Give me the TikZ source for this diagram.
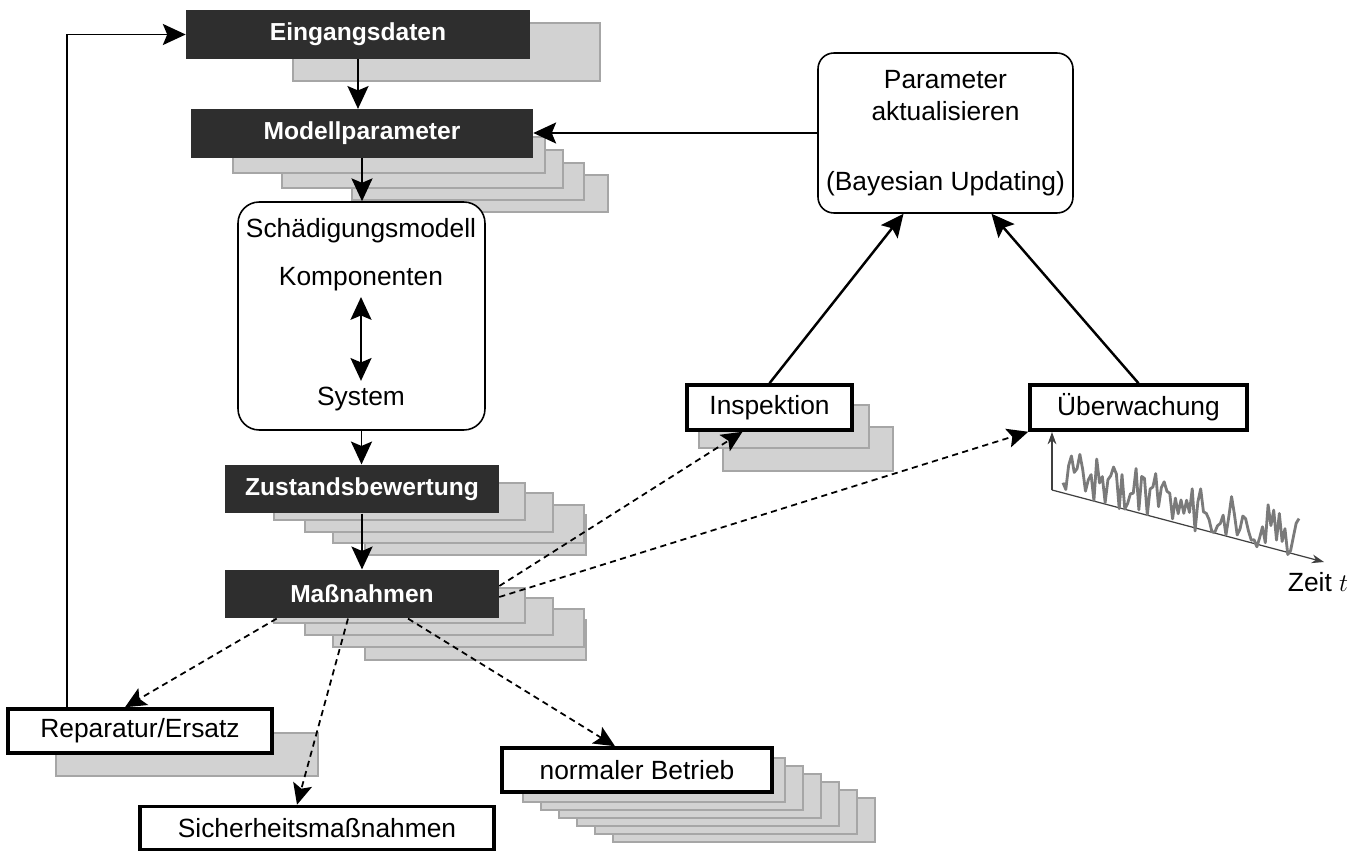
\documentclass[tikz,border=0pt]{standalone}
\usepackage{fontspec}
\setmainfont{Liberation Sans}
\usetikzlibrary{positioning,arrows.meta,calc}
\definecolor{dark}{HTML}{2E2E2E}
\definecolor{shade}{HTML}{D2D2D2}
\definecolor{shadeline}{HTML}{A6A6A6}
\definecolor{sig}{HTML}{7A7A7A}

\begin{document}
\begin{tikzpicture}[x=0.02cm,y=-0.02cm,
  >={Stealth[length=13pt,width=12pt,inset=2.5pt]},
  every node/.style={font=\fontsize{15}{18}\selectfont},
  darkbox/.style={fill=dark,text=white,font=\fontsize{14}{17}\selectfont\bfseries,minimum height=0.97cm,inner sep=0pt},
  whitebox/.style={draw=black,line width=2pt,fill=white,minimum height=0.88cm,inner sep=0pt},
  roundbox/.style={draw=black,line width=0.9pt,rounded corners=11pt,fill=white,inner sep=0pt},
  layer/.style={fill=shade,draw=shadeline,line width=1.6pt},
  flow/.style={->,line width=1.1pt},
  opt/.style={->,line width=1pt,dash pattern=on 3.5pt off 2.5pt,>={Stealth[length=12pt,width=11pt,inset=2.5pt]}}]
\useasboundingbox (0,0) rectangle (1363,852);
% stacked copies behind the boxes
\foreach \xa/\ya/\xb/\yb in {293/23/600/81,
  400/175/608/212,352/163/584/200,282/150/563/188,233/137/545/173,
  365/515/586/555,333/505/584/543,305/493/553/532,274/483/525/520,
  365/620/586/660,333/609/584/647,305/598/553/635,274/588/525/623,
  56/733/318/776,723/427/893/471,699/405/869/448}
  \draw[layer] (\xa,\ya) rectangle (\xb,\yb);
\foreach \i in {6,5,...,1}
  \draw[layer] (505+18*\i,750+8*\i) rectangle (767+18*\i,794+8*\i);
% main chain
\node[darkbox,minimum width=6.88cm] (ein) at (358,34.5) {Eingangsdaten};
\node[darkbox,minimum width=6.84cm] (mod) at (362,133.5) {Modellparameter};
\node[roundbox,rounded corners=12pt,minimum width=4.94cm,minimum height=4.56cm] (sch) at (361.5,316) {};
\node (titel) at (361,231) {Schädigungsmodell};
\node (komp) at (361,279) {Komponenten};
\node (sys) at (361,399) {System};
\node[darkbox,minimum width=5.48cm] (zus) at (362,489) {Zustandsbewertung};
\node[darkbox,minimum width=5.48cm] (mas) at (362,594) {Maßnahmen};
% measures
\node[whitebox,minimum width=5.28cm] (rep) at (140,731) {Reparatur/Ersatz};
\node[whitebox,minimum width=7.08cm,minimum height=0.86cm] (sich) at (317,828) {Sicherheitsmaßnahmen};
\node[whitebox,minimum width=5.4cm] (nor) at (637,770) {normaler Betrieb};
\node[whitebox,minimum width=3.3cm,minimum height=0.9cm] (insp) at (769.5,407.5) {Inspektion};
\node[whitebox,minimum width=4.34cm,minimum height=0.9cm] (ueb) at (1138.5,407.5) {Überwachung};
% updating
\node[roundbox,rounded corners=9pt,minimum width=5.1cm,minimum height=3.2cm,align=center] (par) at (945.5,133)
  {Parameter\\aktualisieren\\[21.7pt](Bayesian Updating)};
% arrows
\coordinate (back) at (67,0);
\draw[flow] (rep.north -| back) |- (ein.west);
\draw[flow] (ein.south) -- (ein.south |- mod.north);
\draw[flow] (mod.south) -- (mod.south |- sch.north);
\draw[flow] (sch.south) -- (sch.south |- zus.north);
\draw[flow] (zus.south) -- (mas.north);
\draw[<->,line width=0.9pt] (komp.south) -- (sys.north);
\draw[->,line width=0.8pt] (par.west) -- (par.west -| mod.east);
\draw[flow,line width=1.4pt] (insp.north) -- ($(par.south)+(-42,0)$);
\draw[flow,line width=1.4pt] (ueb.north) -- ($(par.south)+(46,0)$);
\draw[opt] ($(mas.east)+(0,-8)$) -- ($(insp.south)+(-27,0)$);
\draw[opt] ($(mas.east)+(0,3)$) -- (ueb.south west);
\draw[opt] ($(mas.south west)+(52,0)$) -- ($(rep.north)+(-15,0)$);
\draw[opt] ($(mas.south)+(-14,0)$) -- ($(sich.north)+(-20,0)$);
\draw[opt] ($(mas.south)+(46,0)$) -- ($(nor.north)+(-22,0)$);
% monitoring signal
\coordinate (o) at (1052,490);
\draw[->,line width=0.7pt,black!75,>={Stealth[length=7pt,width=5pt]}] (o) -- (1052,432);
\draw[->,line width=0.7pt,black!75,>={Stealth[length=7pt,width=5pt]}] (o) -- (1324,562);
\pgfmathsetseed{3}
\draw[sig,line width=1.6pt,line join=round] plot[domain=1063:1299,samples=85] (\x,{490+(\x-1052)*0.265-20+24*rand});
\node (zeit) at (1318,582) {Zeit $t$};
\end{tikzpicture}
\end{document}
